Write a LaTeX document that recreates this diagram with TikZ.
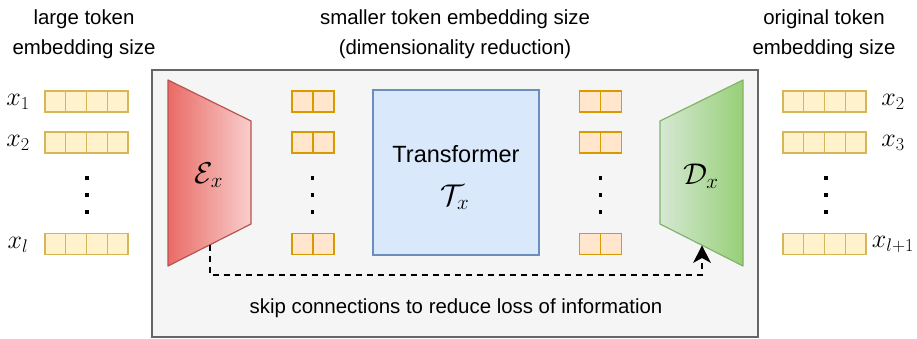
\RequirePackage{fix-cm}
\documentclass[tikz,border=0pt]{standalone}
\usepackage{fontspec}
\setmainfont{Liberation Sans}
\usetikzlibrary{arrows.meta}

\definecolor{boxfill}{HTML}{F5F5F5}
\definecolor{boxedge}{HTML}{666666}
\definecolor{bigfill}{HTML}{FFF2CC}
\definecolor{bigedge}{HTML}{D6B656}
\definecolor{smallfill}{HTML}{FFE6CC}
\definecolor{smalledge}{HTML}{D79B00}
\definecolor{tfill}{HTML}{DAE8FC}
\definecolor{tedge}{HTML}{6C8EBF}
\definecolor{encL}{HTML}{EA6B66}
\definecolor{encR}{HTML}{F8CECC}
\definecolor{encedge}{HTML}{B85450}
\definecolor{decL}{HTML}{D5E8D4}
\definecolor{decR}{HTML}{97D077}
\definecolor{decedge}{HTML}{82B366}

\begin{document}
\begin{tikzpicture}[x=1pt,y=-1pt,
  caption/.style={anchor=base,inner sep=0pt,font=\fontsize{20.4}{24}\selectfont},
  bigcell/.style={draw=bigedge,fill=bigfill,line width=1.3pt,minimum width=20.75pt,minimum height=21pt,inner sep=0pt},
  smallcell/.style={draw=smalledge,fill=smallfill,line width=1.7pt,minimum width=21pt,minimum height=21pt,inner sep=0pt},
  toklabel/.style={inner sep=0pt,font=\fontsize{26}{30}\selectfont},
  dotsq/.style={fill=black,inner sep=0pt,minimum size=3.4pt},
  skipline/.style={line width=1.4pt,dash pattern=on 6pt off 5pt},
  skiphead/.style={fill=black,line join=miter},
]
\useasboundingbox (0,0) rectangle (917,339);

% header captions
\node[caption] (capLa) at (84,25) {large token};
\node[caption] (capLb) at (84,55) {embedding size};
\node[caption] (capMa) at (455,25) {smaller token embedding size};
\node[caption] (capMb) at (455,55) {(dimensionality reduction)};
\node[caption] (capRa) at (824,25) {original token};
\node[caption] (capRb) at (824,55) {embedding size};

% model frame
\draw[draw=boxedge,fill=boxfill,line width=1.5pt] (152,70) rectangle (758,337);

% encoder and decoder trapezia
\shade[left color=encL,right color=encR] (168,80) -- (251,121) -- (251,224) -- (168,266) -- cycle;
\draw[encedge,line width=1.2pt,line join=round] (168,80) -- (251,121) -- (251,224) -- (168,266) -- cycle;
\shade[left color=decL,right color=decR] (660,121) -- (743,80) -- (743,266) -- (660,224) -- cycle;
\draw[decedge,line width=1.2pt,line join=round] (660,121) -- (743,80) -- (743,266) -- (660,224) -- cycle;
\node[inner sep=0pt,anchor=base,font=\fontsize{30}{34}\selectfont] (enc) at (209,183) {$\mathcal{E}_x$};
\node[inner sep=0pt,anchor=base,font=\fontsize{30}{34}\selectfont] (dec) at (701,184) {$\mathcal{D}_x$};

% transformer block
\node[draw=tedge,fill=tfill,line width=1.3pt,minimum width=166pt,minimum height=165pt,inner sep=0pt] (T) at (456,172.5) {};
\node[inner sep=0pt,anchor=base,font=\fontsize{23.5}{28}\selectfont] (Tname) at (456,163) {Transformer};
\node[inner sep=0pt,anchor=base,font=\fontsize{30}{34}\selectfont] (Tsym) at (455,205) {$\mathcal{T}_x$};

% token vectors
\foreach \r/\y in {1/101.5,2/142.5,3/244}{
  \foreach \k in {0,...,3}{
    \node[bigcell] (in\r-\k) at ({55.4+20.75*\k},\y) {};
    \node[bigcell] (out\r-\k) at ({793.4+20.75*\k},\y) {};
  }
  \foreach \k in {0,1}{
    \node[smallcell] (enc\r-\k) at ({302.5+21*\k},\y) {};
    \node[smallcell] (dec\r-\k) at ({590+21*\k},\y) {};
  }
}

% vertical ellipses
\foreach \c/\x in {a/87,b/312.5,c/600.5,d/826}{
  \foreach \j/\y in {1/178,2/195,3/212}{
    \node[dotsq] (dot\c\j) at (\x,\y) {};
  }
}

% token labels
\node[toklabel] (x1) at (18,102) {$x_1$};
\node[toklabel] (x2) at (18,143) {$x_2$};
\node[toklabel] (xl) at (18,244.5) {$x_l$};
\node[toklabel] (y2) at (893,102) {$x_2$};
\node[toklabel] (y3) at (893,143) {$x_3$};
\node[toklabel] (yl) at (893,244.5) {$x_{l+1}$};

% skip connection: dashed elbow ending in a concave filled head
\coordinate (skipS) at (210,244.7);
\coordinate (skipLow) at (210,275);
\coordinate (skipEnd) at (702,256);
\coordinate (skipE) at (702,245.5);
\draw[skipline] (skipS) -- (skipLow) -| (skipEnd);
\fill[skiphead] (skipE) -- ++(-9,17.5) -- ++(9,-5) -- ++(9,5) -- cycle;
\node[caption] (skiptxt) at (456,313) {skip connections to reduce loss of information};
\end{tikzpicture}
\end{document}
